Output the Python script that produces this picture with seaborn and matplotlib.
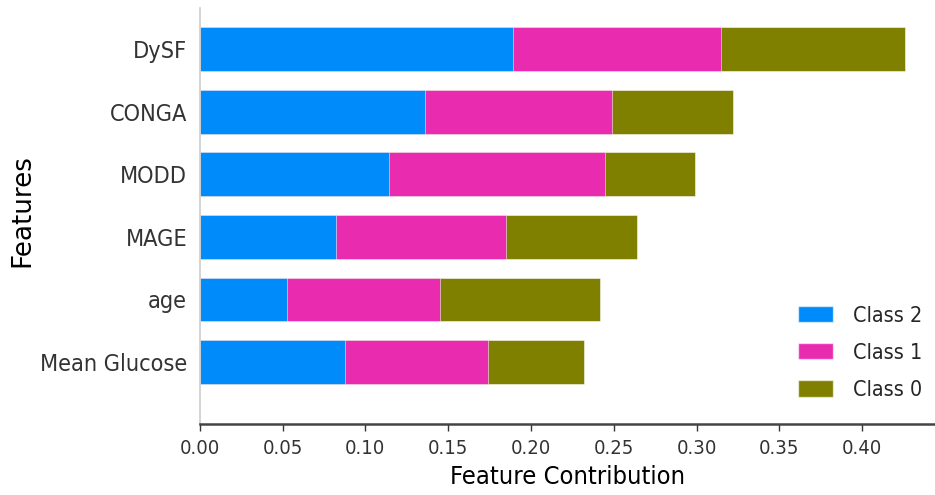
import numpy as np
import pandas as pd
import matplotlib
matplotlib.use("Agg")
import matplotlib.pyplot as plt
import seaborn as sns
from matplotlib.patches import Patch

# Mean contribution of each feature, split by class
features = ["DySF", "CONGA", "MODD", "MAGE", "age", "Mean Glucose"]
class_2 = [0.189, 0.136, 0.114, 0.082, 0.053, 0.088]
class_1 = [0.126, 0.113, 0.131, 0.103, 0.092, 0.086]
class_0 = [0.111, 0.073, 0.054, 0.079, 0.097, 0.058]
class_names = ["Class 2", "Class 1", "Class 0"]
class_colors = ["#008bfb", "#e92bb0", "#808000"]

sns.set_style("white")
plt.rcParams["font.family"] = ["DejaVu Sans"]
plt.rcParams["font.stretch"] = "condensed"

df = pd.DataFrame({"feature": features,
                   "c2": class_2, "c1": class_1, "c0": class_0})
df["s2"] = df["c2"]
df["s1"] = df["c2"] + df["c1"]
df["s0"] = df["c2"] + df["c1"] + df["c0"]

fig = plt.figure(figsize=(9.35, 4.95), dpi=100)
ax = fig.add_axes([0.2136, 0.1434, 0.7864, 0.8404])

# stacked bars: draw cumulative totals from the widest down
for col, color in zip(["s0", "s1", "s2"], class_colors[::-1]):
    sns.barplot(data=df, x=col, y="feature", order=features, orient="h",
                color=color, saturation=1, width=0.7, ax=ax,
                edgecolor=(1, 1, 1, 0.6), linewidth=0.6)

ax.set_xlim(0, 0.444)
ax.set_ylim(5.99, -0.655)
ticks = np.arange(0, 0.41, 0.05)
ax.set_xticks(ticks)
ax.set_xticklabels([f"{v:.2f}" for v in ticks])

ax.set_xlabel("Feature Contribution", fontsize=18.3, color="black", labelpad=5)
ax.set_ylabel("Features", fontsize=18.8, fontstretch="normal", color="black")
ax.yaxis.set_label_coords(-0.224, 0.514)

for s in ["top", "right"]:
    ax.spines[s].set_visible(False)
ax.spines["left"].set_color("#cccccc")
ax.spines["left"].set_linewidth(1.2)
ax.spines["bottom"].set_color("#444444")
ax.spines["bottom"].set_linewidth(1.8)

ax.tick_params(axis="x", labelsize=14.5, colors="#333333", length=5,
               width=1, direction="out", bottom=True, pad=6)
ax.tick_params(axis="y", labelsize=16.8, colors="#333333", length=0, pad=9)

handles = [Patch(facecolor=c, edgecolor=(1, 1, 1, 0.6), label=n)
           for c, n in zip(class_colors, class_names)]
ax.legend(handles=handles, loc="lower right", bbox_to_anchor=(1.0, 0.027),
          frameon=False, fontsize=15.4, handlelength=1.62, handleheight=0.78,
          handletextpad=0.93, labelspacing=0.8, borderaxespad=0.2)

fig.savefig("out.png", dpi=100)
